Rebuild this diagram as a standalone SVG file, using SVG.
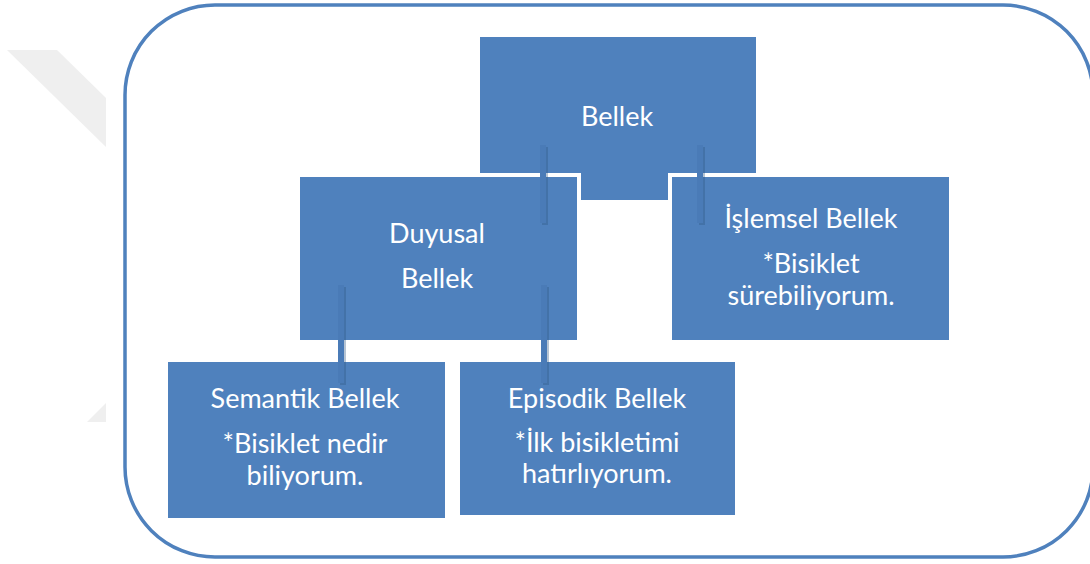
<svg xmlns="http://www.w3.org/2000/svg" width="1090" height="564" viewBox="0 0 1090 564">
<defs>
<style>
.box{fill:#4f81bd;}
.child{fill:#4f81bd;stroke:#ffffff;stroke-width:8;paint-order:stroke;}
.t{font-family:Lato,"Liberation Sans",sans-serif;font-size:27px;fill:#ffffff;text-anchor:middle;}
.bar{fill:#4a7bb7;}
.shadow{fill:#2f5580;opacity:0.35;}
.wm{fill:#efefef;}
</style>
</defs>
<rect width="1090" height="564" fill="#ffffff"/>
<g id="watermark">
<polygon class="wm" points="7,50 57,50 106,98 106,147"/>
<polygon class="wm" points="87,422 106,403 106,422"/>
</g>
<rect id="frame" x="125" y="5" width="968" height="552" rx="90" ry="90" fill="none" stroke="#4f81bd" stroke-width="3.5"/>
<g id="node-bellek">
<rect class="box" x="480" y="37" width="276" height="163"/>
<text class="t" x="617" y="126">Bellek</text>
</g>
<g id="node-duyusal">
<rect class="child" x="300" y="177" width="277" height="163"/>
<text class="t" x="437" y="243">Duyusal</text>
<text class="t" x="437" y="288">Bellek</text>
</g>
<g id="node-islemsel">
<rect class="child" x="672" y="177" width="277" height="163"/>
<text class="t" x="811" y="228">İşlemsel Bellek</text>
<text class="t" x="811" y="273">*Bisiklet</text>
<text class="t" x="811" y="305">sürebiliyorum.</text>
</g>
<g id="node-semantik">
<rect class="child" x="168" y="362" width="277" height="156"/>
<text class="t" x="305" y="408">Semantik Bellek</text>
<text class="t" x="305" y="453">*Bisiklet nedir</text>
<text class="t" x="305" y="485">biliyorum.</text>
</g>
<g id="node-episodik">
<rect class="child" x="460" y="362" width="275" height="153"/>
<text class="t" x="597" y="408">Episodik Bellek</text>
<text class="t" x="597" y="452">*İlk bisikletimi</text>
<text class="t" x="597" y="483">hatırlıyorum.</text>
</g>
<g id="connectors">
<rect class="shadow" x="542" y="147" width="6" height="78"/>
<rect class="bar" x="540" y="145" width="6" height="78"/>
<rect class="shadow" x="699" y="147" width="6" height="78"/>
<rect class="bar" x="697" y="145" width="6" height="78"/>
<rect class="shadow" x="340" y="287" width="6" height="98"/>
<rect class="bar" x="338" y="285" width="6" height="98"/>
<rect class="shadow" x="543" y="287" width="6" height="98"/>
<rect class="bar" x="541" y="285" width="6" height="98"/>
</g>
</svg>
